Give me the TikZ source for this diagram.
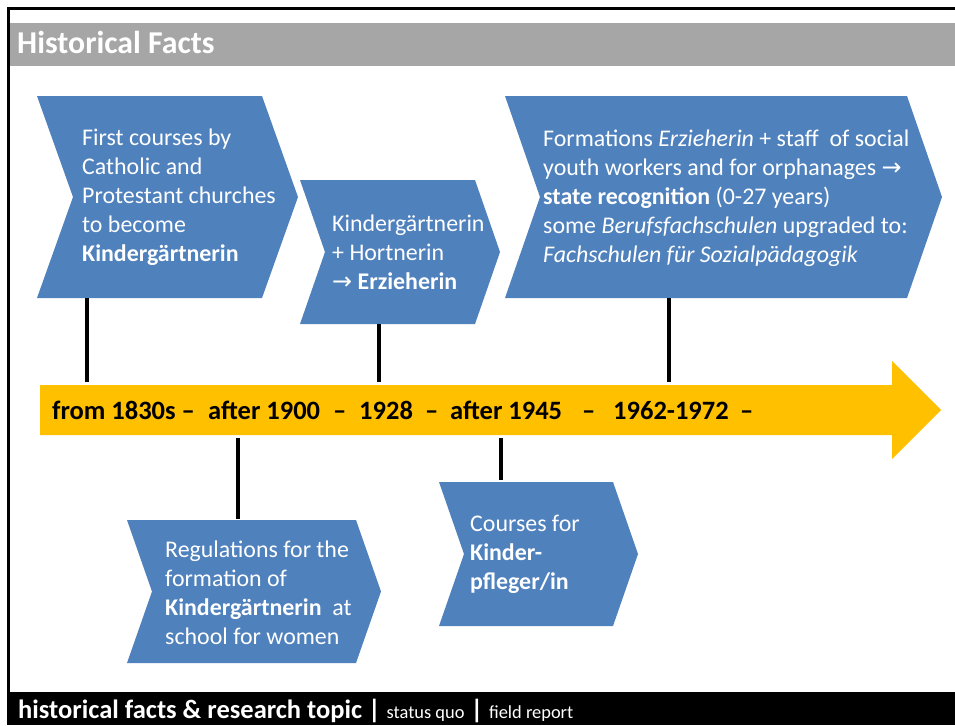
\documentclass[tikz,border=0pt]{standalone}
\usepackage{fontspec}
\setmainfont{Carlito}
\newfontfamily\arrfont{DejaVu Sans}
\newcommand{\rarr}{{\arrfont\char"2192}}
\definecolor{chevblue}{HTML}{4F81BD}
\definecolor{tlyellow}{HTML}{FFC000}
\definecolor{bargray}{HTML}{A6A6A6}
\newcommand{\chevron}[5]{% xl, yt, xr, yb, depth
  \fill[chevblue] (#1,#2) -- (#3,#2) -- ({#3+#5},{(#2+#4)/2}) -- (#3,#4) -- (#1,#4) -- ({#1+#5},{(#2+#4)/2}) -- cycle;}
\begin{document}
\begin{tikzpicture}[x=1pt,y=-1pt,
  chevtext/.style={text=white, anchor=west, align=left, inner sep=0pt, font=\fontsize{23.9}{29}\selectfont},
  tltext/.style={anchor=base west, inner sep=0pt, font=\fontsize{26.5}{30}\selectfont\bfseries, text=black},
  conn/.style={line width=3.2pt, black}]
\useasboundingbox (0,0) rectangle (955,725);
\fill[white] (0,0) rectangle (955,725);
% frame
\draw[line width=2.5pt] (955,8.5) -- (8.5,8.5) -- (8.5,725);
% title bar
\fill[bargray] (9.7,23) rectangle (955,66);
\node[anchor=base west, inner sep=0pt, text=white, font=\fontsize{31.8}{36}\selectfont\bfseries] (title) at (17,54) {Historical Facts};
% bottom bar
\fill[black] (7.3,692) rectangle (955,725);
\node[anchor=base west, inner sep=0pt, text=white, font=\fontsize{26.5}{30}\selectfont] (footer) at (18,718)
  {\textbf{historical facts \& research topic |} {\fontsize{18.4}{20}\selectfont status quo} \textbf{|} {\fontsize{18.4}{20}\selectfont field report}};
% timeline arrow
\fill[tlyellow] (40,385) -- (892,385) -- (892,361) -- (941,410) -- (892,459) -- (892,435) -- (40,435) -- cycle;
\node[tltext] (tl1) at (52,419) {from 1830s –};
\node[tltext] (tl2) at (208,419) {after 1900};
\node[tltext] (tl3) at (333,419) {–};
\node[tltext] (tl4) at (359,419) {1928};
\node[tltext] (tl5) at (425,419) {–};
\node[tltext] (tl6) at (450,419) {after 1945};
\node[tltext] (tl7) at (582,419) {–};
\node[tltext] (tl8) at (613,419) {1962-1972};
\node[tltext] (tl9) at (740,419) {–};
% chevrons
\chevron{37}{96}{262}{298}{36}
\chevron{300}{180}{475}{324}{25}
\chevron{505}{96}{907}{298}{35}
\chevron{127}{520}{356}{663}{25}
\chevron{439}{482}{613}{626}{25}
\node[chevtext] (c1) at (82,197) {First courses by\\Catholic and\\Protestant churches\\to become\\\textbf{Kindergärtnerin}};
\node[chevtext] (c2) at (332,252) {Kindergärtnerin\\+ Hortnerin\\\rarr{} \textbf{Erzieherin}};
\node[chevtext] (c3) at (543,198) {Formations \textit{Erzieherin} + staff~ of social\\youth workers and for orphanages \rarr\\\textbf{state recognition} (0-27 years)\\some \textit{Berufsfachschulen} upgraded to:\\\textit{Fachschulen für Sozialpädagogik}};
\node[chevtext] (c4) at (165,593) {Regulations for the\\formation of\\\textbf{Kindergärtnerin}~ at\\school for women};
\node[chevtext] (c5) at (470,554) {Courses for\\\textbf{Kinder-}\\\textbf{pfleger/in}};
% connector end points
\coordinate (b1) at (87,298);
\coordinate (b2) at (379,324);
\coordinate (b3) at (669,298);
\coordinate (b4) at (238,519);
\coordinate (b5) at (501,480);
\coordinate (a1) at (87,382);
\coordinate (a2) at (379,382);
\coordinate (a3) at (669,382);
\coordinate (a4) at (238,438);
\coordinate (a5) at (501,438);
\draw[conn] (b1) -- (a1);
\draw[conn] (b2) -- (a2);
\draw[conn] (b3) -- (a3);
\draw[conn] (a4) -- (b4);
\draw[conn] (a5) -- (b5);
\end{tikzpicture}
\end{document}
